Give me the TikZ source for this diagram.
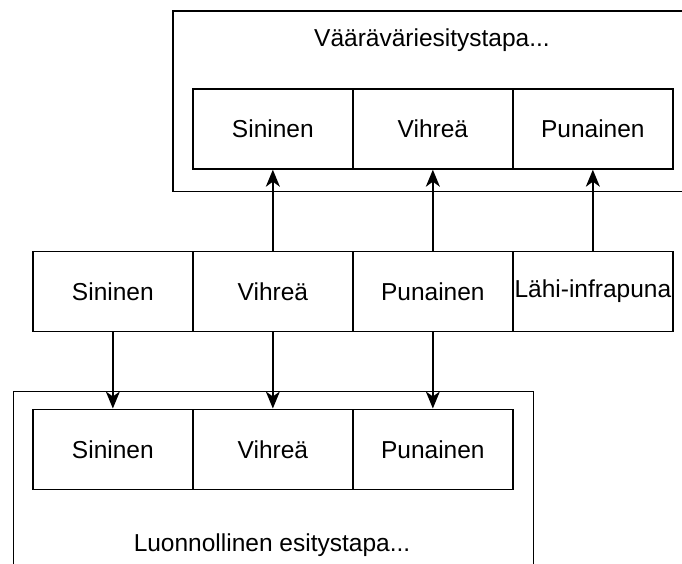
\documentclass[tikz,border=0pt]{standalone}
\usepackage{fontspec}
\setmainfont{Liberation Sans}
\usetikzlibrary{arrows.meta}
\begin{document}
\begin{tikzpicture}[x=1pt,y=-1pt,
  frame/.style={draw=black, line width=1.7pt, inner sep=0pt, anchor=north west},
  band/.style={draw=black, fill=white, line width=1.7pt, minimum width=160pt,
    minimum height=80pt, inner sep=0pt, anchor=north west,
    font=\fontsize{24.5}{29}\selectfont},
  caption/.style={inner sep=0pt, font=\fontsize{24.5}{29}\selectfont},
  link/.style={line width=1.7pt, -{Stealth[length=17pt,width=14pt,inset=5pt]}}]
\clip (0,0) rectangle (682,564);

% containers (both run past the edge of the page)
\node[frame, minimum width=520pt, minimum height=180pt] (falseframe) at (172,10.5) {};
\node[frame, minimum width=520pt, minimum height=220pt] (trueframe) at (12.5,390.5) {};
\node[caption] (falsetitle) at (432,40) {Vääräväriesitystapa...};
\node[caption] (truetitle) at (272,545) {Luonnollinen esitystapa...};

% false colour composite
\node[band] (t1) at (192,88) {Sininen};
\node[band] (t2) at (352,88) {Vihreä};
\node[band] (t3) at (512,88) {Punainen};

% source bands
\node[band] (m1) at (32,250.5) {Sininen};
\node[band] (m2) at (192,250.5) {Vihreä};
\node[band] (m3) at (352,250.5) {Punainen};
\node[band] (m4) at (512,250.5) {Lähi-infrapuna};

% natural colour composite
\node[band] (b1) at (32,408.5) {Sininen};
\node[band] (b2) at (192,408.5) {Vihreä};
\node[band] (b3) at (352,408.5) {Punainen};

% band assignments
\draw[link] (m2.north) -- (t1.south);
\draw[link] (m3.north) -- (t2.south);
\draw[link] (m4.north) -- (t3.south);
\draw[link] (m1.south) -- (b1.north);
\draw[link] (m2.south) -- (b2.north);
\draw[link] (m3.south) -- (b3.north);
\end{tikzpicture}
\end{document}
